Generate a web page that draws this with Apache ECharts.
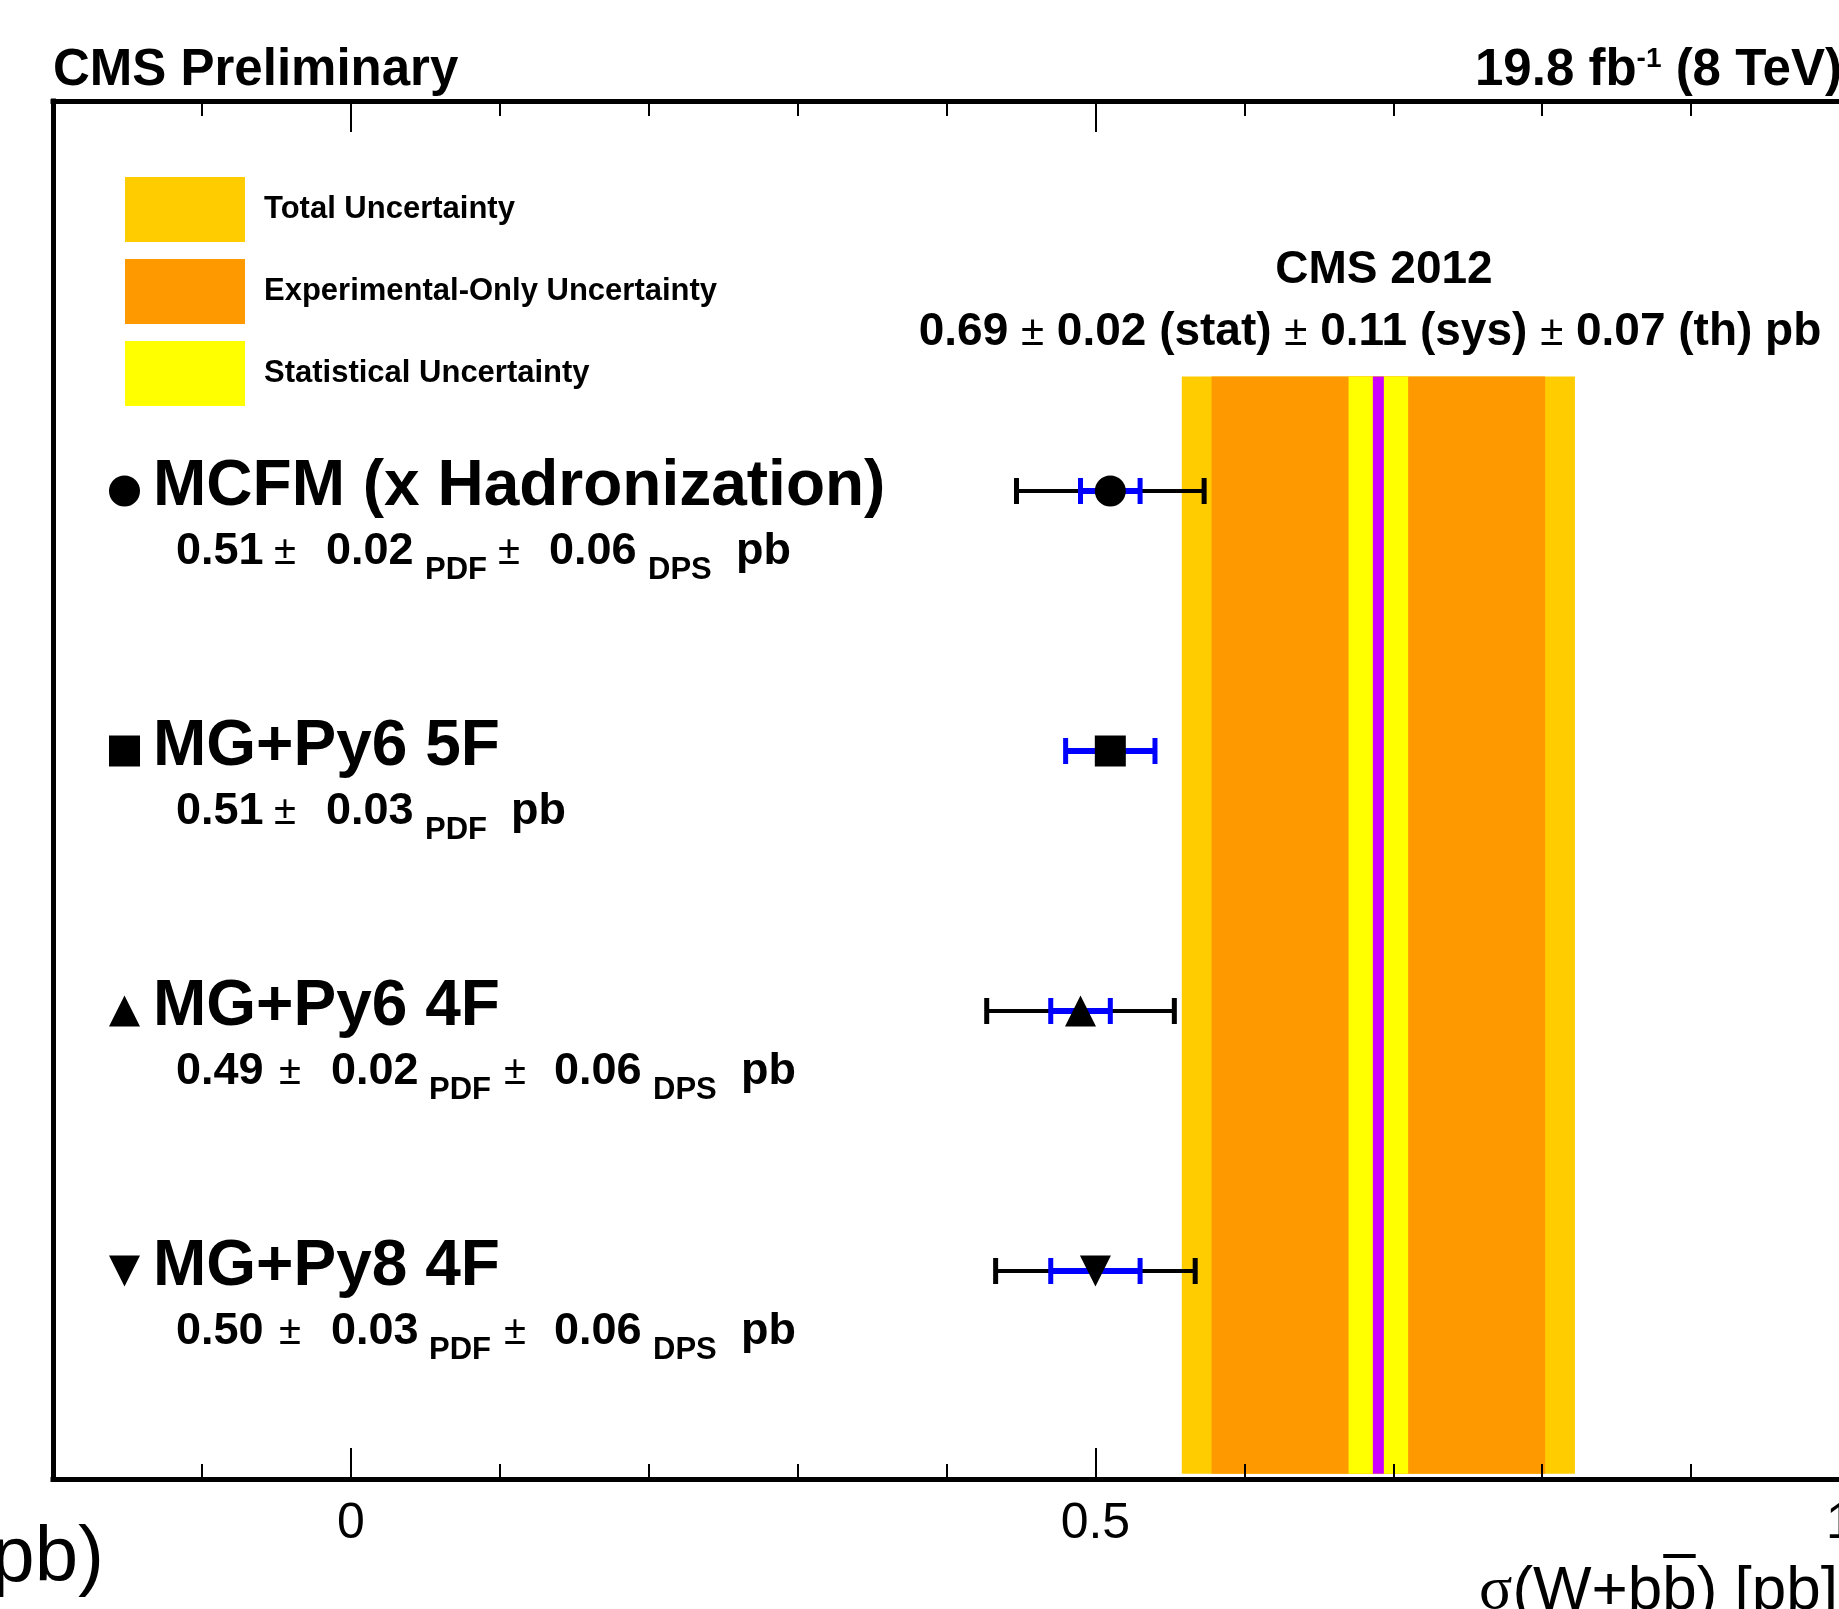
<!DOCTYPE html>
<html>
<head>
<meta charset="utf-8">
<script src="https://cdn.jsdelivr.net/npm/echarts@6/dist/echarts.min.js"></script>
<style>
html, body { margin: 0; padding: 0; background: #fff; }
#main { width: 1839px; height: 1609px; }
</style>
</head>
<body>
<div id="main"></div>
<script>
// axis ranges
var xMin = -0.2, xMax = 1.0;
var yMin = 0.2, yMax = 5.5;
var majorTicks = [0, 0.5, 1];

// theory predictions
var models = ['MCFM (x Hadronization)', 'MG+Py6 5F', 'MG+Py6 4F', 'MG+Py8 4F'];
var modelRow = [4, 3, 2, 1];
var modelXsec = [0.51, 0.51, 0.49, 0.50];
var pdfErr = [0.02, 0.03, 0.02, 0.03];
var dpsErr = [0.06, null, 0.06, 0.06];
var totalErr = [0.063, null, 0.063, 0.067];
var markers = ['circle', 'rect', 'triangle', 'triangleDown'];

// CMS measurement
var cmsXsec = 0.69;
var cmsStat = 0.02, cmsSys = 0.11, cmsTh = 0.07;
var bandTotal = [0.558, 0.822];
var bandExp = [0.578, 0.802];
var bandStat = [0.670, 0.710];
var bandRows = [0.22, 4.44];

var fontSans = '"Liberation Sans", Arial, Helvetica, sans-serif';
var fontSerif = '"Liberation Serif", "Times New Roman", serif';

var chart = echarts.init(document.getElementById('main'));
var measureCtx = document.createElement('canvas').getContext('2d');

function fontStr(size, weight, family) {
    return (weight || 'normal') + ' ' + size + 'px ' + (family || fontSans);
}

function textEl(x, base, s, size, weight, family, align) {
    return {
        type: 'text', x: x, y: base - 0.25 * size, z: 100,
        style: {
            text: s, font: fontStr(size, weight, family), fill: '#000',
            align: align || 'left', verticalAlign: 'middle'
        }
    };
}

// pieces placed one after the other on a common baseline
function textRun(x, base, pieces, align) {
    var total = 0, w = [];
    pieces.forEach(function (p) {
        measureCtx.font = fontStr(p.size, p.weight, p.family);
        var pw = measureCtx.measureText(p.text).width;
        w.push(pw);
        total += pw;
    });
    if (align === 'center') x -= total / 2;
    if (align === 'right') x -= total;
    var els = [], pos = [];
    pieces.forEach(function (p, i) {
        pos.push(x);
        els.push(textEl(x, base + (p.dy || 0), p.text, p.size, p.weight, p.family));
        x += w[i];
    });
    return { els: els, pos: pos, widths: w };
}

function bandItem(params, api) {
    var p0 = api.coord([api.value(0), api.value(3)]);
    var p1 = api.coord([api.value(1), api.value(2)]);
    return {
        type: 'rect',
        shape: { x: p0[0], y: p0[1], width: p1[0] - p0[0], height: p1[1] - p0[1] },
        style: { fill: api.visual('color') }
    };
}

function centralItem(params, api) {
    var top = api.coord([api.value(0), api.value(2)]);
    var bot = api.coord([api.value(0), api.value(1)]);
    return {
        type: 'line',
        shape: { x1: top[0], y1: top[1], x2: bot[0], y2: bot[1] },
        style: { stroke: '#cc00ff', lineWidth: 11 }
    };
}

function errItem(color, lw) {
    return function (params, api) {
        var x = api.value(0), y = api.value(1), e = api.value(2);
        var a = api.coord([x - e, y]), b = api.coord([x + e, y]);
        var h = 13;
        return {
            type: 'group',
            children: [
                { type: 'line', shape: { x1: a[0], y1: a[1], x2: b[0], y2: b[1] }, style: { stroke: color, lineWidth: lw } },
                { type: 'line', shape: { x1: a[0], y1: a[1] - h, x2: a[0], y2: a[1] + h }, style: { stroke: color, lineWidth: 5 } },
                { type: 'line', shape: { x1: b[0], y1: b[1] - h, x2: b[0], y2: b[1] + h }, style: { stroke: color, lineWidth: 5 } }
            ]
        };
    };
}

var blackData = [], blueData = [], pointData = [];
for (var i = 0; i < models.length; i++) {
    if (totalErr[i] != null) blackData.push([modelXsec[i], modelRow[i], totalErr[i]]);
    blueData.push([modelXsec[i], modelRow[i], pdfErr[i]]);
    pointData.push({
        value: [modelXsec[i], modelRow[i]],
        symbol: markers[i] === 'triangleDown' ? 'triangle' : markers[i],
        symbolRotate: markers[i] === 'triangleDown' ? 180 : 0,
        symbolSize: markers[i] === 'circle' ? 31 : 31
    });
}

var tickStyle = { color: '#000', width: 2 };
var lineStyle = { color: '#000', width: 5, cap: 'square' };

function labelFmt(v) {
    for (var k = 0; k < majorTicks.length; k++) {
        if (Math.abs(v - majorTicks[k]) < 1e-9) return String(majorTicks[k]);
    }
    return '';
}

var option = {
    animation: false,
    backgroundColor: '#fff',
    grid: { left: 53, right: -1, top: 101, bottom: 130, outerBoundsMode: 'none', containLabel: false },
    legend: {
        orient: 'vertical', left: 125, top: 177, padding: 0,
        itemWidth: 120, itemHeight: 65, itemGap: 17, icon: 'rect',
        selectedMode: false,
        data: ['Total Uncertainty', 'Experimental-Only Uncertainty', 'Statistical Uncertainty'],
        textStyle: { fontSize: 31, fontWeight: 'bold', fontFamily: fontSans, color: '#000', padding: [4, 0, 0, 14] }
    },
    xAxis: [
        {
            type: 'value', position: 'bottom', min: xMin, max: xMax, interval: 0.1, z: 10,
            axisLine: { show: true, onZero: false, lineStyle: lineStyle },
            axisTick: { show: true, inside: true, length: 15, lineStyle: tickStyle },
            axisLabel: {
                show: true, margin: 20, fontSize: 50, color: '#000', fontFamily: fontSans,
                showMinLabel: true, showMaxLabel: true, formatter: labelFmt
            },
            splitLine: { show: false }
        },
        {
            type: 'value', position: 'top', min: xMin, max: xMax, interval: 0.1, z: 10,
            axisLine: { show: true, onZero: false, lineStyle: lineStyle },
            axisTick: { show: true, inside: true, length: 15, lineStyle: tickStyle },
            axisLabel: { show: false },
            splitLine: { show: false }
        },
        {
            type: 'value', position: 'bottom', min: xMin, max: xMax, z: 10,
            axisLine: { show: false },
            axisTick: { show: true, inside: true, length: 31, customValues: majorTicks, lineStyle: tickStyle },
            axisLabel: { show: false },
            splitLine: { show: false }
        },
        {
            type: 'value', position: 'top', min: xMin, max: xMax, z: 10,
            axisLine: { show: false },
            axisTick: { show: true, inside: true, length: 31, customValues: majorTicks, lineStyle: tickStyle },
            axisLabel: { show: false },
            splitLine: { show: false }
        }
    ],
    yAxis: {
        type: 'value', min: yMin, max: yMax, position: 'left', z: 10,
        axisLine: { show: true, onZero: false, lineStyle: lineStyle },
        axisTick: { show: false },
        axisLabel: { show: false },
        splitLine: { show: false }
    },
    series: [
        {
            name: 'Total Uncertainty', type: 'custom', renderItem: bandItem,
            itemStyle: { color: '#ffcc00' }, encode: { x: [0, 1], y: [2, 3] },
            data: [[bandTotal[0], bandTotal[1], bandRows[0], bandRows[1]]]
        },
        {
            name: 'Experimental-Only Uncertainty', type: 'custom', renderItem: bandItem,
            itemStyle: { color: '#ff9900' }, encode: { x: [0, 1], y: [2, 3] },
            data: [[bandExp[0], bandExp[1], bandRows[0], bandRows[1]]]
        },
        {
            name: 'Statistical Uncertainty', type: 'custom', renderItem: bandItem,
            itemStyle: { color: '#ffff00' }, encode: { x: [0, 1], y: [2, 3] },
            data: [[bandStat[0], bandStat[1], bandRows[0], bandRows[1]]]
        },
        {
            name: 'central', type: 'custom', renderItem: centralItem,
            encode: { x: 0, y: [1, 2] },
            data: [[cmsXsec, bandRows[0], bandRows[1]]]
        },
        {
            name: 'total err', type: 'custom', renderItem: errItem('#000', 4),
            encode: { x: 0, y: 1 }, data: blackData
        },
        {
            name: 'pdf err', type: 'custom', renderItem: errItem('#0000ff', 6),
            encode: { x: 0, y: 1 }, data: blueData
        },
        {
            name: 'prediction', type: 'scatter', itemStyle: { color: '#000', opacity: 1 },
            data: pointData
        }
    ]
};

chart.setOption(option);

// texts and label markers
var g = [];
g.push(textEl(53, 84, 'CMS Preliminary', 51, 'bold'));
textRun(1475, 84, [
    { text: '19.8 fb', size: 51, weight: 'bold' },
    { text: '-1', size: 28, weight: 'bold', dy: -18 },
    { text: ' (8 TeV)', size: 51, weight: 'bold' }
]).els.forEach(function (e) { g.push(e); });

g.push(textEl(1384, 282, 'CMS 2012', 46, 'bold', null, 'center'));
textRun(1370, 344, [
    { text: cmsXsec.toFixed(2) + ' ', size: 46, weight: 'bold' },
    { text: '\u00b1', size: 42 },
    { text: ' ' + cmsStat.toFixed(2) + ' (stat) ', size: 46, weight: 'bold' },
    { text: '\u00b1', size: 42 },
    { text: ' ' + cmsSys.toFixed(2) + ' (sys) ', size: 46, weight: 'bold' },
    { text: '\u00b1', size: 42 },
    { text: ' ' + cmsTh.toFixed(2) + ' (th) pb', size: 46, weight: 'bold' }
], 'center').els.forEach(function (e) { g.push(e); });

// x positions of the value pieces in each row
var rowX = [
    [176, 274, 326, 425, 498, 549, 648, 736],
    [176, 274, 326, 425, 511],
    [176, 279, 331, 429, 504, 554, 653, 741],
    [176, 279, 331, 429, 504, 554, 653, 741]
];

for (var r = 0; r < models.length; r++) {
    var py = chart.convertToPixel({ yAxisIndex: 0 }, modelRow[r]);
    var cx = 124.5, s = 15.5;
    if (markers[r] === 'circle') {
        g.push({ type: 'circle', shape: { cx: cx, cy: py, r: s }, style: { fill: '#000' }, z: 100 });
    } else if (markers[r] === 'rect') {
        g.push({ type: 'rect', shape: { x: cx - s, y: py - s, width: 2 * s, height: 2 * s }, style: { fill: '#000' }, z: 100 });
    } else if (markers[r] === 'triangle') {
        g.push({ type: 'polygon', shape: { points: [[cx, py - s], [cx - s, py + s], [cx + s, py + s]] }, style: { fill: '#000' }, z: 100 });
    } else {
        g.push({ type: 'polygon', shape: { points: [[cx, py + s], [cx - s, py - s], [cx + s, py - s]] }, style: { fill: '#000' }, z: 100 });
    }
    g.push(textEl(153, py + 12, models[r], 64, 'bold'));

    var xs = rowX[r], vb = py + 72, sb = py + 87;
    g.push(textEl(xs[0], vb, modelXsec[r].toFixed(2), 45, 'bold'));
    g.push(textEl(xs[1], vb, '\u00b1', 40));
    g.push(textEl(xs[2], vb, pdfErr[r].toFixed(2), 45, 'bold'));
    g.push(textEl(xs[3], sb, 'PDF', 31, 'bold'));
    if (dpsErr[r] != null) {
        g.push(textEl(xs[4], vb, '\u00b1', 40));
        g.push(textEl(xs[5], vb, dpsErr[r].toFixed(2), 45, 'bold'));
        g.push(textEl(xs[6], sb, 'DPS', 31, 'bold'));
        g.push(textEl(xs[7], vb, 'pb', 45, 'bold'));
    } else {
        g.push(textEl(xs[4], vb, 'pb', 45, 'bold'));
    }
}

// axis titles
var xt = textRun(1838, 1607, [
    { text: '\u03c3', size: 62, family: fontSerif },
    { text: '(W+b', size: 62 },
    { text: 'b', size: 62 },
    { text: ') [pb]', size: 62 }
], 'right');
xt.els.forEach(function (e) { g.push(e); });
g.push({
    type: 'line', z: 100,
    shape: { x1: xt.pos[2] + 1, y1: 1556, x2: xt.pos[2] + xt.widths[2] - 1, y2: 1556 },
    style: { stroke: '#000', lineWidth: 4 }
});
g.push(textEl(104, 1579, 'pb)', 78, 'normal', null, 'right'));

chart.setOption({ graphic: g });
</script>
</body>
</html>
